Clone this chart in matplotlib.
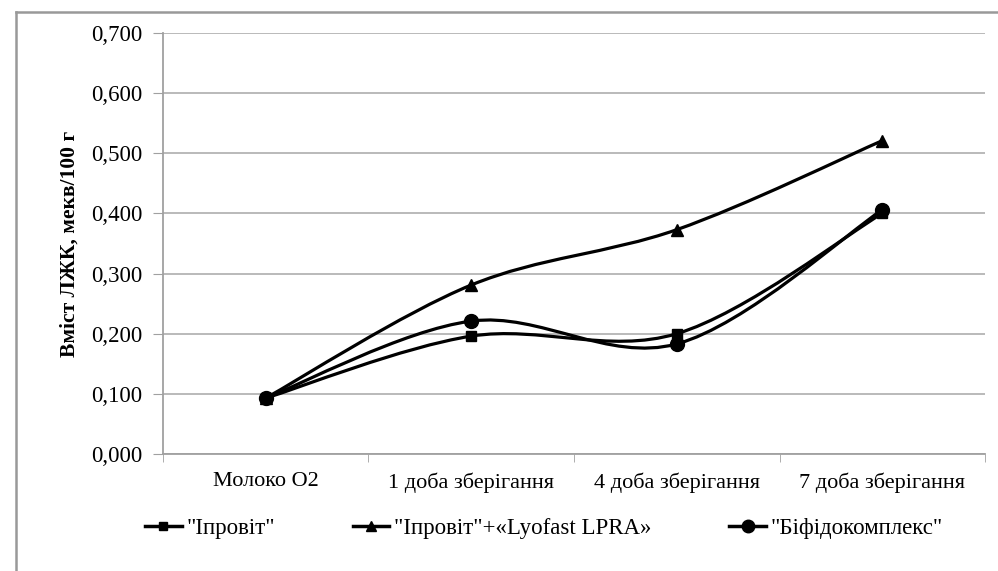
import numpy as np
import matplotlib.pyplot as plt
from matplotlib.path import Path
from matplotlib.patches import PathPatch
from matplotlib.lines import Line2D

plt.rcParams['font.family'] = ['Liberation Serif', 'DejaVu Serif']

categories = ['Молоко О2', '1 доба зберігання', '4 доба зберігання', '7 доба зберігання']
iprovit = [0.093, 0.196, 0.200, 0.400]
iprovit_lyofast = [0.093, 0.281, 0.373, 0.521]
bifido = [0.093, 0.221, 0.183, 0.406]
series_names = ['"Іпровіт"', '"Іпровіт"+«Lyofast LPRA»', '"Біфідокомплекс"']
yticks = [0.0, 0.1, 0.2, 0.3, 0.4, 0.5, 0.6, 0.7]


def smooth_path(x, y):
    # Excel-style smoothed line: cubic Bezier through each point (Catmull-Rom)
    pts = np.column_stack([x, y])
    ext = np.vstack([pts[0], pts, pts[-1]])
    verts = [pts[0]]
    codes = [Path.MOVETO]
    for i in range(len(pts) - 1):
        p0, p1, p2, p3 = ext[i], ext[i + 1], ext[i + 2], ext[i + 3]
        verts += [p1 + (p2 - p0) / 6, p2 - (p3 - p1) / 6, p2]
        codes += [Path.CURVE4] * 3
    return Path(verts, codes)


fig = plt.figure(figsize=(9.98, 5.71), dpi=100)
ax = fig.add_axes([0.1633, 0.2049, 0.8237, 0.7373])

x = np.arange(len(categories))
styles = [('s', 7), ('^', 8), ('o', 10)]
handles = []
for vals, name, (mk, ms) in zip([iprovit, iprovit_lyofast, bifido], series_names, styles):
    ax.add_patch(PathPatch(smooth_path(x, vals), fill=False, edgecolor='black',
                           lw=2.3, zorder=3, capstyle='round'))
    ax.plot(x, vals, linestyle='none', marker=mk, markersize=ms, color='black', zorder=4)
    handles.append(Line2D([], [], color='black', lw=2.5, marker=mk, markersize=ms - 1, label=name))

ax.set_xlim(-0.5, len(categories) - 0.5)
ax.set_ylim(0, 0.7)
ax.set_yticks(yticks)
ax.set_yticklabels([f'{v:.3f}'.replace('.', ',') for v in yticks], fontsize=16.5)
ax.set_xticks(x)
ax.set_xticklabels(categories, fontsize=16)
ax.set_xticks(np.arange(-0.5, len(categories)), minor=True)
ax.tick_params(axis='x', which='major', length=0, pad=13)
ax.tick_params(axis='x', which='minor', length=6, color='#a0a0a0')
ax.tick_params(axis='y', length=7, color='#a0a0a0', pad=8)
ax.yaxis.grid(True, color='#b4b4b4', lw=1.3)
ax.set_axisbelow(True)
for s in ['top', 'right']:
    ax.spines[s].set_visible(False)
for s in ['left', 'bottom']:
    ax.spines[s].set_color('#a0a0a0')
    ax.spines[s].set_linewidth(1.3)

ax.set_ylabel('Вміст ЛЖК, мекв/100 г', fontsize=15.5, fontweight='bold', labelpad=8)

fig.legend(handles=handles, loc='center', bbox_to_anchor=(0.545, 0.075), ncol=3,
           frameon=False, fontsize=16.5, handlelength=1.6, columnspacing=3.4, handletextpad=0.2)

# outer chart border (left and top edges visible)
fig.add_artist(Line2D([16 / 998, 16 / 998], [0, 1 - 12 / 571], color='#999999', lw=1.8,
                      transform=fig.transFigure))
fig.add_artist(Line2D([16 / 998, 1], [1 - 12 / 571, 1 - 12 / 571], color='#999999', lw=1.8,
                      transform=fig.transFigure))

fig.savefig('out.png', dpi=100)
